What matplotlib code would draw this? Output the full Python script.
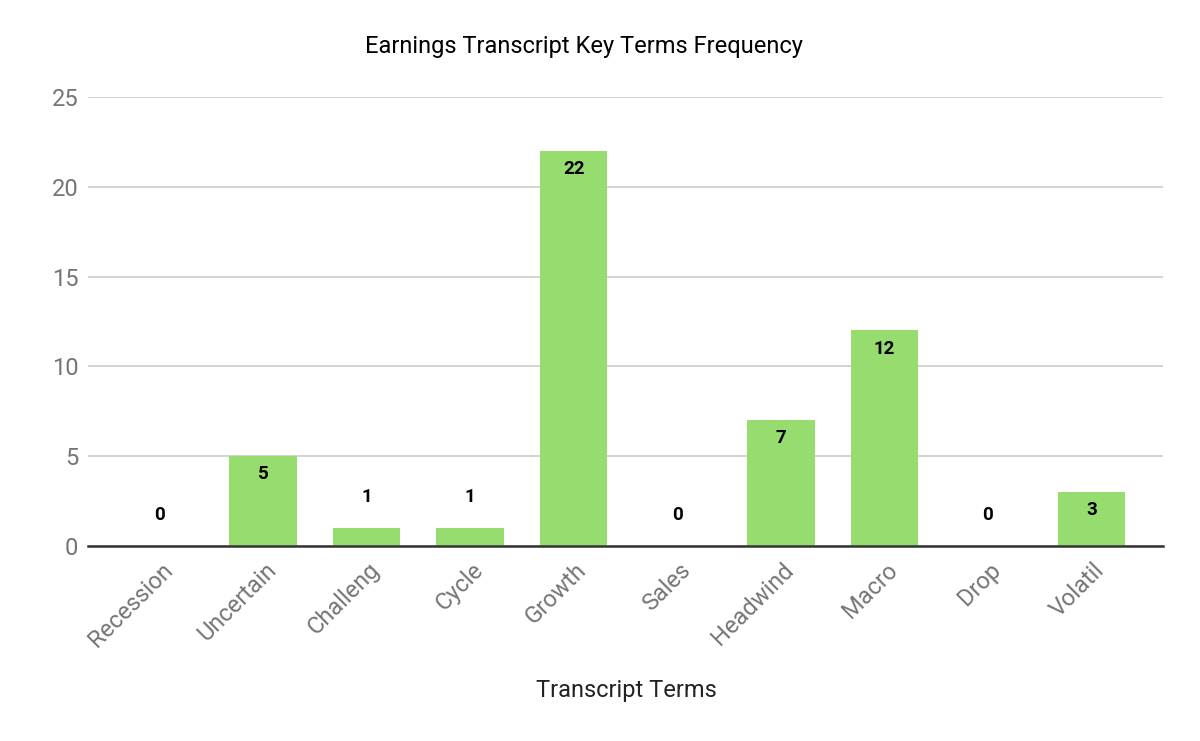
import matplotlib
matplotlib.use("Agg")
import matplotlib.pyplot as plt
import matplotlib.transforms as mtransforms

categories = ["Recession", "Uncertain", "Challeng", "Cycle", "Growth",
              "Sales", "Headwind", "Macro", "Drop", "Volatil"]
values = [0, 5, 1, 1, 22, 0, 7, 12, 0, 3]
yticks = [0, 5, 10, 15, 20, 25]

plt.rcParams['font.family'] = ['Roboto', 'DejaVu Sans']

fig = plt.figure(figsize=(12, 7.41), dpi=100)
ax = fig.add_axes([88/1200, 1 - 546/741, (1163-88)/1200, (546-97)/741])

bar_color = "#97dc6e"
width = 0.65
x = list(range(len(categories)))
ax.bar(x, values, width=width, color=bar_color, zorder=3)

ax.set_xlim(-0.69, 9.69)
ax.set_ylim(0, 25)
ax.set_yticks(yticks)
ax.set_yticklabels([str(t) for t in yticks])
ax.yaxis.grid(True, color="#cccccc", linewidth=1.2, zorder=0)
ax.set_axisbelow(True)
for s in ["top", "right", "left"]:
    ax.spines[s].set_visible(False)
ax.spines["bottom"].set_color("#333333")
ax.spines["bottom"].set_linewidth(1.8)
ax.spines["bottom"].set_zorder(4)
ax.tick_params(axis="y", length=0, labelsize=17, labelcolor="#757575", pad=7)
ax.tick_params(axis="x", length=0, labelsize=17, labelcolor="#757575", pad=9)
ax.set_xticks(x)
ax.set_xticklabels(categories, rotation=45, ha="right", rotation_mode="anchor")
offset = mtransforms.ScaledTranslation(1/72, 0, fig.dpi_scale_trans)
for lab in ax.get_xticklabels():
    lab.set_transform(lab.get_transform() + offset)

for xi, v in zip(x, values):
    if v >= 3:
        ax.annotate(str(v), (xi, v), xytext=(0, -13), textcoords="offset points",
                    ha="center", va="center", fontsize=13.5, fontweight="bold",
                    color="#000000", zorder=5)
    else:
        ax.annotate(str(v), (xi, v), xytext=(0, 22), textcoords="offset points",
                    ha="center", va="center", fontsize=13.5, fontweight="bold",
                    color="#000000", zorder=5)

fig.text(584/1200, 1 - 47/741, "Earnings Transcript Key Terms Frequency",
         ha="center", va="center", fontsize=17, color="#000000")
fig.text(626/1200, 1 - 691/741, "Transcript Terms", ha="center", va="center",
         fontsize=17, color="#222222")

fig.savefig("out.png", dpi=100)
